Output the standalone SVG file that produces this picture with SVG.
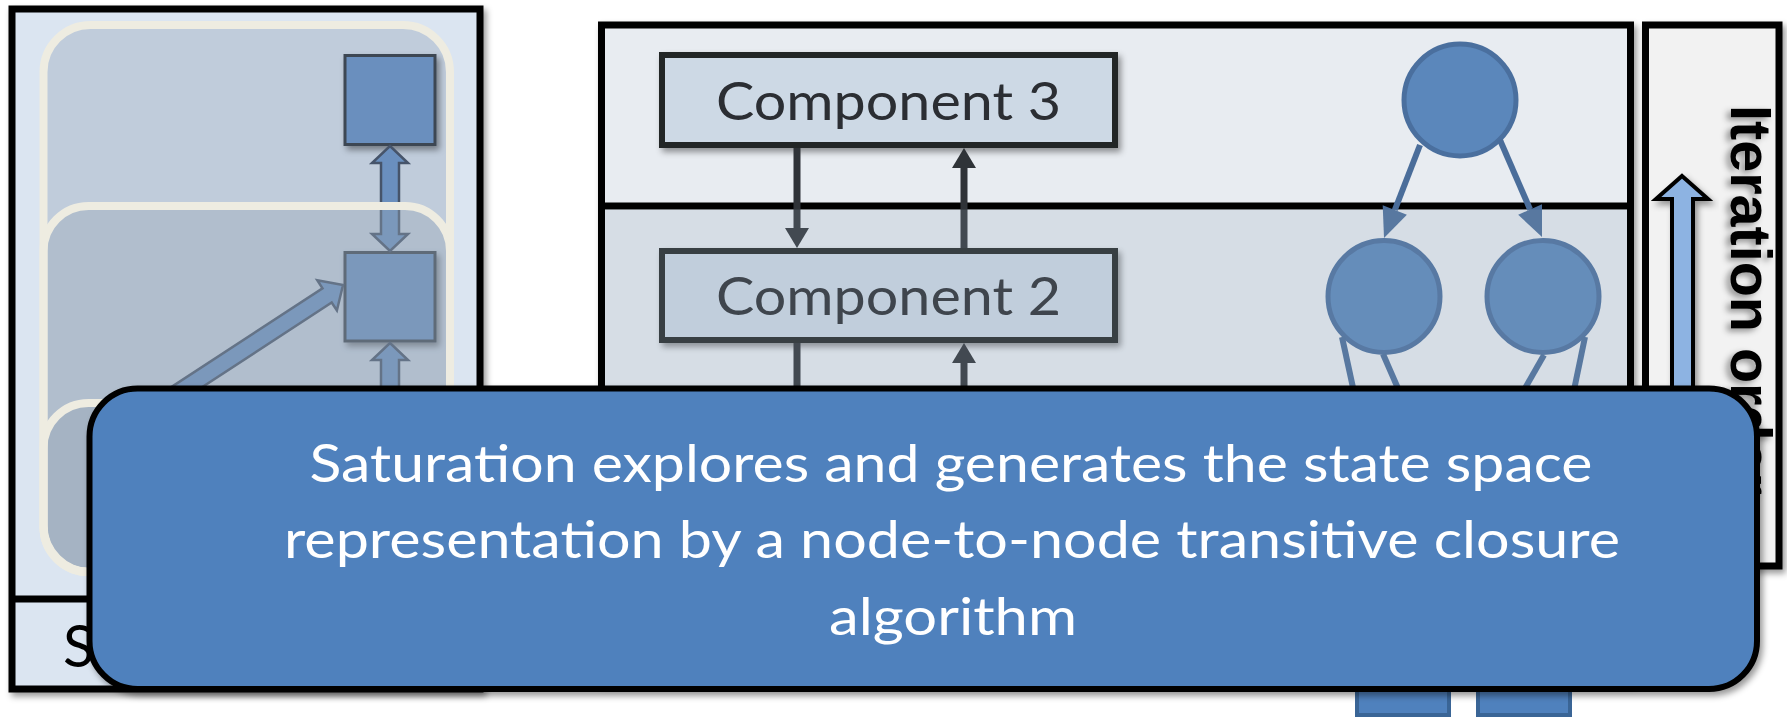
<svg xmlns="http://www.w3.org/2000/svg" width="1787" height="720" viewBox="0 0 1787 720">
  <defs>
    <filter id="shadow" x="-10%" y="-10%" width="130%" height="130%">
      <feDropShadow dx="3" dy="4" stdDeviation="3" flood-color="#000" flood-opacity="0.4"/>
    </filter>
    <style>
      .frame { stroke: #000; stroke-width: 7; }
      .band-edge { fill: none; stroke: #eeece1; stroke-width: 8; }
      .sq { fill: #6a8fbe; stroke: #3d4753; stroke-width: 3; }
      .block { fill: #6a8fbe; stroke: #46546a; stroke-width: 2.5; }
      .comp { fill: #cdd9e5; stroke: #222528; stroke-width: 6; }
      .comp-label { font-family: Lato, "Open Sans", sans-serif; font-size: 52px; fill: #2b2e33; text-anchor: middle; }
      .wire { stroke: #2f3338; stroke-width: 7; fill: none; }
      .wire-head { fill: #2f3338; }
      .node { fill: #5b87bb; stroke: #4a6f9e; stroke-width: 5; }
      .edge { stroke: #4a6d9a; stroke-width: 6; fill: none; }
      .edge-head { fill: #4a6d9a; }
      .leaf { fill: #4f81bd; stroke: #3a6596; stroke-width: 4; }
      .callout-text { font-family: Lato, "Open Sans", sans-serif; font-size: 53px; fill: #fff; text-anchor: middle; }
    </style>
  </defs>

  <rect width="1787" height="720" fill="#fff"/>

  <!-- left panel: saturation levels -->
  <g id="state-space-panel">
    <rect x="12" y="9" width="468" height="680" fill="#dbe5f1" class="frame" filter="url(#shadow)"/>
    <line x1="12" y1="599" x2="480" y2="599" class="frame"/>
    <text x="63" y="667" font-family="Lato, 'Open Sans', sans-serif" font-size="58" fill="#000">S</text>
    <rect x="43.5" y="25" width="406.5" height="547" rx="47" fill="#c0ccdb"/>
  </g>

  <!-- middle panel: components -->
  <g id="component-panel">
    <rect x="601.5" y="25" width="1029" height="655" fill="#e8ecf1" class="frame" filter="url(#shadow)"/>
    <line x1="601.5" y1="206" x2="1630.5" y2="206" class="frame"/>
  </g>

  <!-- right panel: iteration order -->
  <g id="iteration-order">
    <rect x="1645.5" y="25" width="133.5" height="541" fill="#f2f2f2" class="frame" filter="url(#shadow)"/>
    <path d="M1682,176 L1708,199 L1693,199 L1693,560 L1672,560 L1672,199 L1656,199 Z" fill="#8db3e2" stroke="#000" stroke-width="4" filter="url(#shadow)"/>
    <text transform="translate(1731,105) rotate(90)" font-family="'Liberation Sans', Arial, sans-serif" font-weight="bold" font-size="57" fill="#000" textLength="390" lengthAdjust="spacingAndGlyphs" filter="url(#shadow)">Iteration order</text>
  </g>

  <!-- nodes -->
  <g id="level-3-node"><rect class="sq" x="345" y="55.5" width="90" height="89" filter="url(#shadow)"/></g>
  <g id="level-2-node"><rect class="sq" x="345" y="252.5" width="90" height="88.5" filter="url(#shadow)"/></g>

  <g id="component-3">
    <rect class="comp" x="662" y="55" width="453" height="90" filter="url(#shadow)"/>
    <text class="comp-label" x="888.5" y="120" textLength="345" lengthAdjust="spacingAndGlyphs">Component 3</text>
  </g>
  <g id="component-2">
    <rect class="comp" x="662" y="251" width="453" height="89" filter="url(#shadow)"/>
    <text class="comp-label" x="888.5" y="315" textLength="345" lengthAdjust="spacingAndGlyphs">Component 2</text>
  </g>

  <g id="dd-root"><circle class="node" cx="1460" cy="100" r="56"/></g>
  <g id="dd-left"><circle class="node" cx="1384" cy="296.5" r="56"/></g>
  <g id="dd-right"><circle class="node" cx="1543" cy="296.5" r="56"/></g>

  <!-- connectors -->
  <g id="connectors">
    <!-- block arrows between saturation levels -->
    <path class="block" d="M390,146 L408,163 L399,163 L399,234 L408,234 L390,251 L372,234 L381,234 L381,163 L372,163 Z"/>
    <path class="block" d="M390,343 L408,360 L399,360 L399,440 L408,440 L390,457 L372,440 L381,440 L381,360 L372,360 Z"/>
    <path class="block" d="M113.4,424.9 L322.5,288.3 L317.3,280.3 L343,285 L336.9,310.5 L331.7,302.5 L122.6,439.1 Z"/>

    <!-- component wiring -->
    <line class="wire" x1="797" y1="148" x2="797" y2="230"/>
    <polygon class="wire-head" points="797,248 785,228 809,228"/>
    <line class="wire" x1="964" y1="248" x2="964" y2="166"/>
    <polygon class="wire-head" points="964,148 952,168 976,168"/>
    <line class="wire" x1="797" y1="343" x2="797" y2="430"/>
    <line class="wire" x1="964" y1="430" x2="964" y2="361"/>
    <polygon class="wire-head" points="964,343 952,363 976,363"/>

    <!-- decision diagram edges -->
    <line class="edge" x1="1420" y1="145" x2="1394.8" y2="210"/>
    <polygon class="edge-head" points="1384,238 1406.9,214.7 1382.7,205.3"/>
    <line class="edge" x1="1500" y1="140" x2="1530.1" y2="209.5"/>
    <polygon class="edge-head" points="1542,237 1542,204.3 1518.2,214.7"/>
    <line class="edge" x1="1342" y1="337" x2="1410" y2="650"/>
    <line class="edge" x1="1383" y1="354" x2="1512" y2="650"/>
    <line class="edge" x1="1544" y1="355" x2="1375" y2="650"/>
    <line class="edge" x1="1585" y1="337" x2="1520" y2="650"/>
  </g>

  <!-- translucent level bands -->
  <g id="state-space-bands">
    <rect x="43.5" y="206" width="406.5" height="366" rx="45" fill="#97a7b8" fill-opacity="0.375"/>
    <rect x="43.5" y="403" width="406.5" height="169" rx="45" fill="#97a7b8" fill-opacity="0.45"/>
    <rect class="band-edge" x="43.5" y="25" width="406.5" height="547" rx="47"/>
    <rect class="band-edge" x="43.5" y="206" width="406.5" height="366" rx="45"/>
    <rect class="band-edge" x="43.5" y="403" width="406.5" height="169" rx="45"/>
  </g>
  <rect id="component-2-band" x="605" y="209.5" width="1022" height="467" fill="#91a3b9" fill-opacity="0.2"/>

  <!-- terminal nodes -->
  <g id="terminal-0"><rect class="leaf" x="1357" y="642" width="92" height="73"/></g>
  <g id="terminal-1"><rect class="leaf" x="1478" y="642" width="92" height="73"/></g>

  <!-- callout -->
  <g id="callout">
    <rect x="89.5" y="388.5" width="1667.5" height="300.5" rx="48" fill="#4f81bd" stroke="#000" stroke-width="6" filter="url(#shadow)"/>
    <text class="callout-text" x="951" y="482" textLength="1283" lengthAdjust="spacingAndGlyphs">Saturation explores and generates the state space</text>
    <text class="callout-text" x="952" y="558" textLength="1336" lengthAdjust="spacingAndGlyphs">representation by a node-to-node transitive closure</text>
    <text class="callout-text" x="953" y="635" textLength="248" lengthAdjust="spacingAndGlyphs">algorithm</text>
  </g>
</svg>
